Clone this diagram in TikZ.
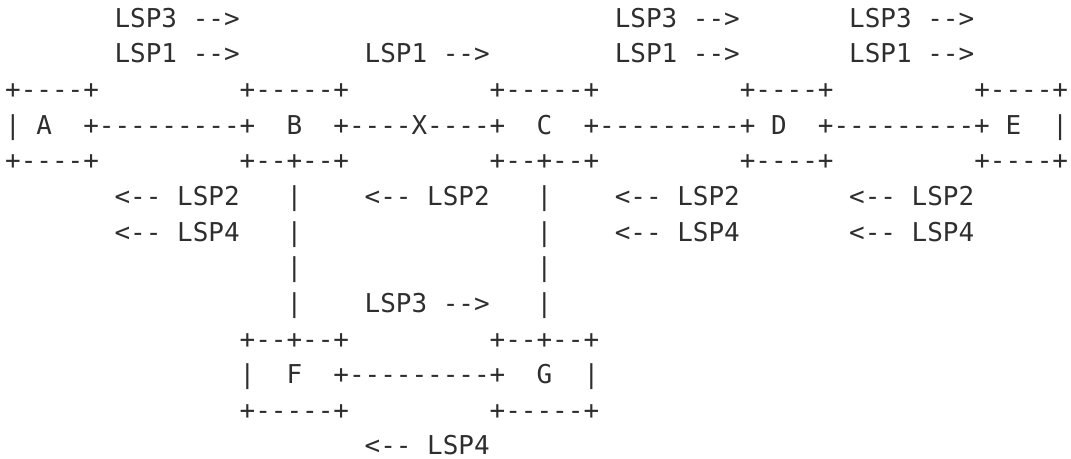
\documentclass[tikz,border=0pt]{standalone}
\usepackage{fontspec}
\setmonofont{DejaVu Sans Mono}
\begin{document}
\begin{tikzpicture}[x=7.815pt,y=-17.82pt,
  t/.style={anchor=base west,inner sep=0pt,outer sep=0pt,
    font=\ttfamily\fontsize{12.98pt}{15pt}\selectfont,text=black!82}]
\useasboundingbox (0,0) rectangle (535.5pt,-229.5pt);
\begin{scope}[shift={(2.6pt,-13.65pt)}]
% row 0
\node[t] (l3a) at (7,0) {LSP3 -->};
\node[t] (l3c) at (39,0) {LSP3 -->};
\node[t] (l3d) at (54,0) {LSP3 -->};
% row 1
\node[t] (l1a) at (7,1) {LSP1 -->};
\node[t] (l1b) at (23,1) {LSP1 -->};
\node[t] (l1c) at (39,1) {LSP1 -->};
\node[t] (l1d) at (54,1) {LSP1 -->};
% row 2
\node[t] (topA) at (0,2) {+----+};
\node[t] (topB) at (15,2) {+-----+};
\node[t] (topC) at (31,2) {+-----+};
\node[t] (topD) at (47,2) {+----+};
\node[t] (topE) at (62,2) {+----+};
% row 3
\node[t] (lA) at (0,3) {|};
\node[t] (A) at (2,3) {A};
\node[t] (AB) at (5,3) {+---------+};
\node[t] (B) at (18,3) {B};
\node[t] (BC) at (21,3) {+----X----+};
\node[t] (C) at (34,3) {C};
\node[t] (CD) at (37,3) {+---------+};
\node[t] (D) at (49,3) {D};
\node[t] (DE) at (52,3) {+---------+};
\node[t] (E) at (64,3) {E};
\node[t] (rE) at (67,3) {|};
% row 4
\node[t] (botA) at (0,4) {+----+};
\node[t] (botB) at (15,4) {+--+--+};
\node[t] (botC) at (31,4) {+--+--+};
\node[t] (botD) at (47,4) {+----+};
\node[t] (botE) at (62,4) {+----+};
% row 5
\node[t] (l2a) at (7,5) {<-- LSP2};
\node[t] (vB5) at (18,5) {|};
\node[t] (l2b) at (23,5) {<-- LSP2};
\node[t] (vC5) at (34,5) {|};
\node[t] (l2c) at (39,5) {<-- LSP2};
\node[t] (l2d) at (54,5) {<-- LSP2};
% row 6
\node[t] (l4a) at (7,6) {<-- LSP4};
\node[t] (vB6) at (18,6) {|};
\node[t] (vC6) at (34,6) {|};
\node[t] (l4c) at (39,6) {<-- LSP4};
\node[t] (l4d) at (54,6) {<-- LSP4};
% row 7
\node[t] (vB7) at (18,7) {|};
\node[t] (vC7) at (34,7) {|};
% row 8
\node[t] (vB8) at (18,8) {|};
\node[t] (l3fg) at (23,8) {LSP3 -->};
\node[t] (vC8) at (34,8) {|};
% row 9
\node[t] (topF) at (15,9) {+--+--+};
\node[t] (topG) at (31,9) {+--+--+};
% row 10
\node[t] (lF) at (15,10) {|};
\node[t] (F) at (18,10) {F};
\node[t] (FG) at (21,10) {+---------+};
\node[t] (G) at (34,10) {G};
\node[t] (rG) at (37,10) {|};
% row 11
\node[t] (botF) at (15,11) {+-----+};
\node[t] (botG) at (31,11) {+-----+};
% row 12
\node[t] (l4fg) at (23,12) {<-- LSP4};
\end{scope}
\end{tikzpicture}
\end{document}
